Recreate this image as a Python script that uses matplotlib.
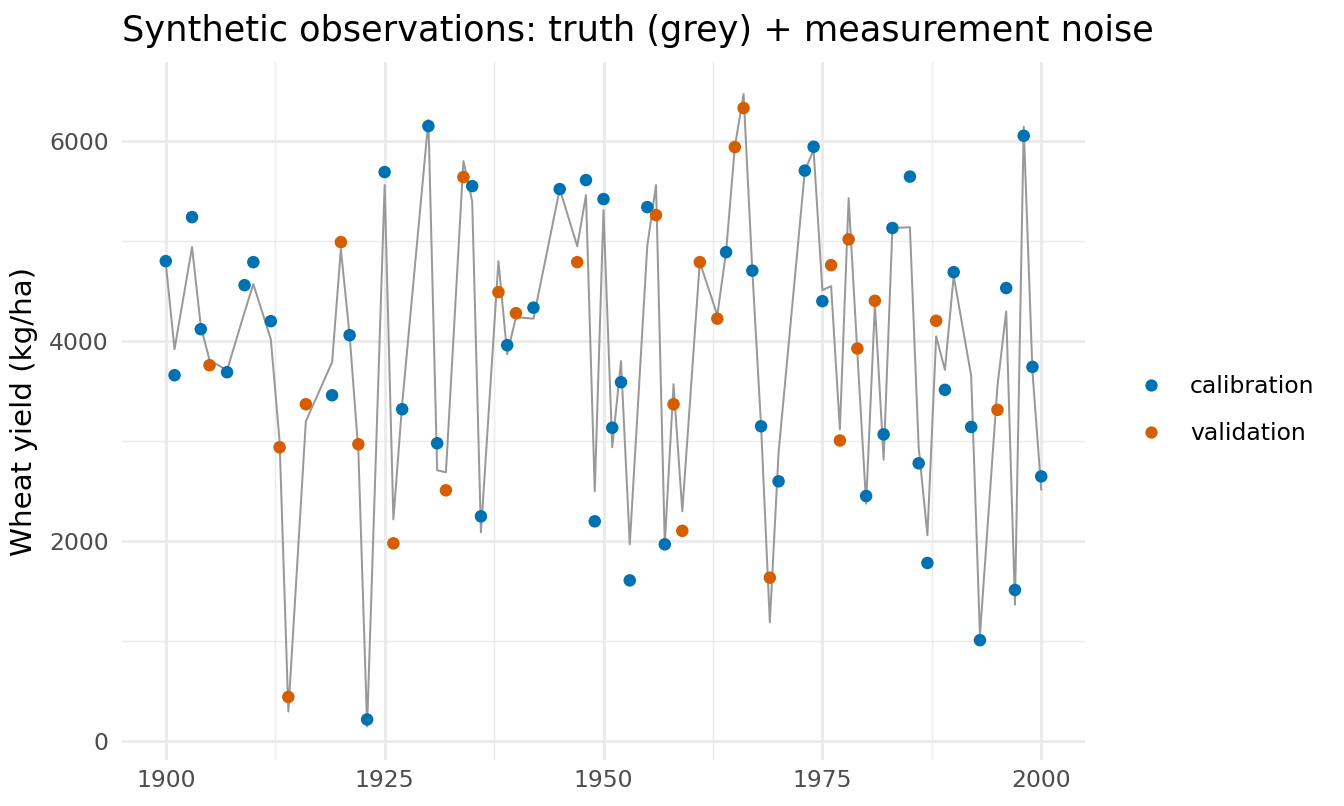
import matplotlib
matplotlib.use("Agg")
import matplotlib.pyplot as plt
from matplotlib.lines import Line2D

plt.rcParams['font.family'] = ['DejaVu Sans']

# ---- data ----
years = [1900, 1901, 1903, 1904, 1905, 1907, 1909, 1910, 1912, 1913, 1914, 1916,
         1919, 1920, 1921, 1922, 1923, 1925, 1926, 1927, 1930, 1931, 1932, 1934,
         1935, 1936, 1938, 1939, 1940, 1942, 1945, 1947, 1948, 1949, 1950, 1951,
         1952, 1953, 1955, 1956, 1957, 1958, 1959, 1961, 1963, 1964, 1965, 1966,
         1967, 1968, 1969, 1970, 1973, 1974, 1975, 1976, 1977, 1978, 1979, 1980,
         1981, 1982, 1983, 1985, 1986, 1987, 1988, 1989, 1990, 1992, 1993, 1995,
         1996, 1997, 1998, 1999, 2000]
truth = [4780, 3920, 4940, 4150, 3810, 3710, 4290, 4570, 4020, 3000, 300, 3200,
         3790, 4920, 4060, 2900, 150, 5560, 2220, 3370, 6210, 2710, 2690, 5800,
         5400, 2090, 4800, 3870, 4240, 4225, 5520, 4950, 5460, 2500, 5310, 2940,
         3800, 1970, 4950, 5560, 1970, 3570, 2300, 4790, 4260, 4890, 5940, 6470,
         4705, 3150, 1190, 2890, 5705, 5910, 4510, 4550, 3120, 5430, 3880, 2376,
         4367, 2816, 5131, 5139, 2939, 2061, 4049, 3714, 4653, 3653, 1061, 3551,
         4298, 1367, 6143, 3694, 2518]
observed = [4800, 3660, 5240, 4120, 3760, 3690, 4560, 4790, 4200, 2940, 445, 3370,
            3460, 4990, 4060, 2970, 220, 5690, 1980, 3320, 6150, 2980, 2510, 5640,
            5550, 2250, 4490, 3960, 4280, 4335, 5520, 4790, 5610, 2200, 5420, 3135,
            3590, 1610, 5340, 5260, 1970, 3370, 2105, 4790, 4225, 4890, 5940, 6330,
            4705, 3150, 1637, 2600, 5705, 5943, 4400, 4760, 3008, 5018, 3927, 2453,
            4404, 3069, 5131, 5645, 2780, 1784, 4204, 3514, 4690, 3143, 1012, 3314,
            4531, 1514, 6053, 3743, 2649]
split = ['C', 'C', 'C', 'C', 'V', 'C', 'C', 'C', 'C', 'V', 'V', 'V',
         'C', 'V', 'C', 'V', 'C', 'C', 'V', 'C', 'C', 'C', 'V', 'V',
         'C', 'C', 'V', 'C', 'V', 'C', 'C', 'V', 'C', 'C', 'C', 'C',
         'C', 'C', 'C', 'V', 'C', 'V', 'V', 'V', 'V', 'C', 'V', 'V',
         'C', 'C', 'V', 'C', 'C', 'C', 'C', 'V', 'V', 'V', 'V', 'C',
         'V', 'C', 'C', 'C', 'C', 'C', 'V', 'C', 'C', 'C', 'C', 'V',
         'C', 'C', 'C', 'C', 'C']
groups = ['calibration', 'validation']
group_codes = ['C', 'V']
group_colors = ['#0072B2', '#D55E00']
x_ticks = [1900, 1925, 1950, 1975, 2000]
y_ticks = [0, 2000, 4000, 6000]

# ---- figure ----
fig = plt.figure(figsize=(1344 / 192, 806 / 192), dpi=192)
ax = fig.add_axes([122 / 1344, 1 - 760 / 806, (1085 - 122) / 1344, (760 - 62) / 806])

ax.plot(years, truth, color='#999999', lw=0.75, zorder=2)
for g, code, col in zip(groups, group_codes, group_colors):
    xs = [y for y, s in zip(years, split) if s == code]
    ys = [v for v, s in zip(observed, split) if s == code]
    ax.scatter(xs, ys, s=22, color=col, edgecolors='none', zorder=3, label=g)

ax.set_xlim(1895, 2005)
ax.set_ylim(-185, 6790)
ax.set_xticks(x_ticks)
ax.set_yticks(y_ticks)
ax.set_xticks([1912.5, 1937.5, 1962.5, 1987.5], minor=True)
ax.set_yticks([1000, 3000, 5000], minor=True)
ax.grid(which='major', color='#EBEBEB', lw=1.07)
ax.grid(which='minor', color='#EBEBEB', lw=0.53)
ax.set_axisbelow(True)
for sp in ax.spines.values():
    sp.set_visible(False)
ax.tick_params(which='both', length=0)
ax.tick_params(axis='both', labelsize=8.8, labelcolor='#4D4D4D')
ax.tick_params(axis='x', pad=3.5)
ax.tick_params(axis='y', pad=5.0)

ax.set_ylabel('Wheat yield (kg/ha)', fontsize=11, color='black', labelpad=4)
ax.set_title('Synthetic observations: truth (grey) + measurement noise',
             fontsize=13.2, loc='left', pad=8, color='black')

handles = [Line2D([0], [0], marker='o', ls='none', markersize=4.6,
                  markerfacecolor=c, markeredgecolor='none') for c in group_colors]
fig.legend(handles, groups, loc='center left', bbox_to_anchor=(1123 / 1344, 1 - 410 / 806),
           frameon=False, fontsize=8.8, handletextpad=0.86, labelspacing=1.02,
           handlelength=1.6, borderaxespad=0)

fig.savefig('out.png', dpi=192)
